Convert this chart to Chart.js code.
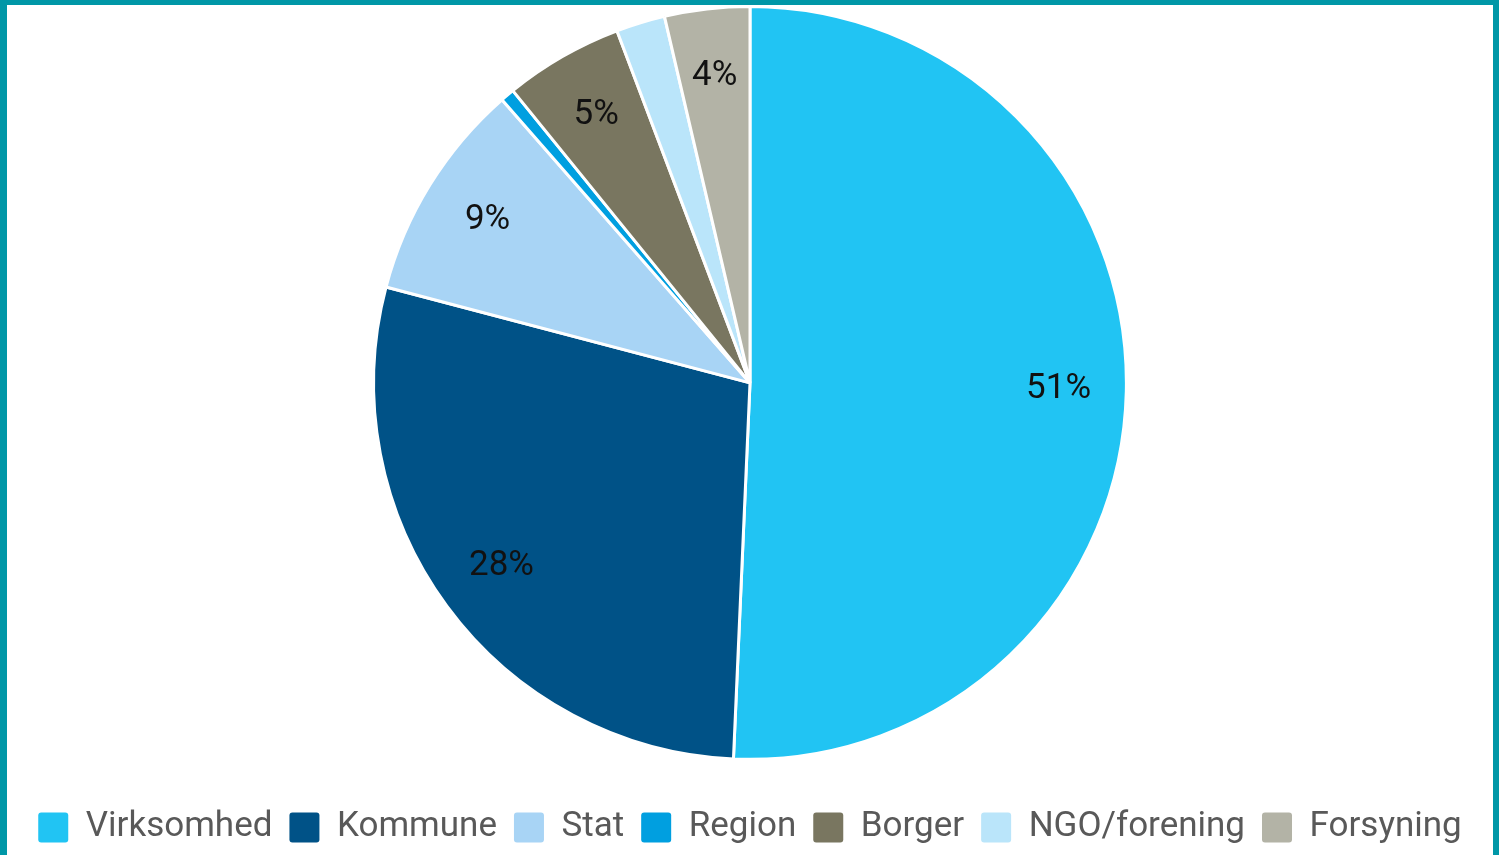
<!DOCTYPE html>
<html>
<head>
<meta charset="utf-8">
<script src="https://cdn.jsdelivr.net/npm/chart.js@4.4.1/dist/chart.umd.min.js"></script>
<style>
  html, body { margin: 0; padding: 0; }
  body { width: 1499px; height: 855px; background: #0097A7; position: relative; overflow: hidden; }
  #wrap { position: absolute; left: 7px; top: 5px; width: 1486px; height: 850px; background: #ffffff; }
  canvas { display: block; }
</style>
</head>
<body>
<div id="wrap"><canvas id="c" width="1486" height="850"></canvas></div>
<script>
const categories = ["Virksomhed", "Kommune", "Stat", "Region", "Borger", "NGO/forening", "Forsyning"];
const shares = [50.7, 28.4, 9.45, 0.6, 5.1, 2.1, 3.65];
const colors = ["#21C4F3", "#005287", "#A8D4F5", "#009FE0", "#797660", "#BAE5FA", "#B3B3A6"];

const pieLabels = {
  id: 'pieLabels',
  afterDatasetsDraw(chart) {
    const ctx = chart.ctx;
    const meta = chart.getDatasetMeta(0);
    const data = chart.data.datasets[0].data;
    const total = data.reduce((a, b) => a + b, 0);
    ctx.save();
    ctx.font = '35px Roboto';
    ctx.fillStyle = '#111111';
    ctx.textAlign = 'center';
    ctx.textBaseline = 'middle';
    meta.data.forEach((arc, i) => {
      const pct = data[i] / total * 100;
      if (pct < 3) return;
      const p = arc.getProps(['x', 'y', 'startAngle', 'endAngle', 'outerRadius'], true);
      const mid = (p.startAngle + p.endAngle) / 2;
      const r = p.outerRadius * 0.82;
      ctx.fillText(Math.round(pct) + '%', p.x + Math.cos(mid) * r, p.y + Math.sin(mid) * r);
    });
    ctx.restore();
  }
};

new Chart(document.getElementById('c'), {
  type: 'pie',
  data: {
    labels: categories,
    datasets: [{
      data: shares,
      backgroundColor: colors,
      borderColor: '#ffffff',
      borderWidth: 3
    }]
  },
  options: {
    responsive: false,
    animation: false,
    layout: { padding: 0 },
    plugins: {
      tooltip: { enabled: false },
      legend: {
        position: 'bottom',
        title: { display: true, text: '', font: { size: 1 }, padding: { top: 31, bottom: 0 } },
        labels: {
          font: { family: 'Roboto', size: 35 },
          color: '#595959',
          boxWidth: 30,
          boxHeight: 30,
          useBorderRadius: true,
          borderRadius: 3,
          padding: 17,
          generateLabels: (chart) => Chart.overrides.pie.plugins.legend.labels.generateLabels(chart)
            .map(l => Object.assign(l, { lineWidth: 0, strokeStyle: 'rgba(0,0,0,0)' }))
        }
      }
    }
  },
  plugins: [pieLabels]
});
</script>
</body>
</html>
